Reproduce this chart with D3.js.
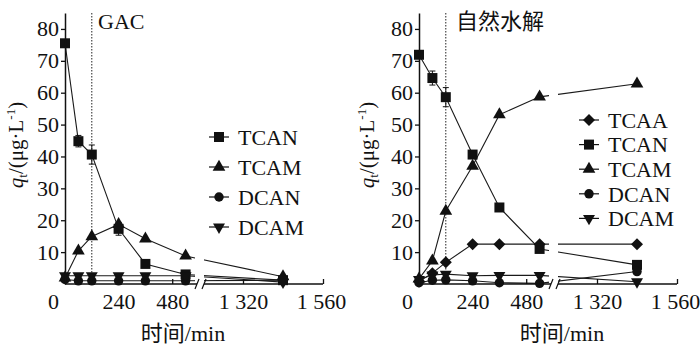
<!DOCTYPE html>
<html><head><meta charset="utf-8">
<script src="https://cdn.jsdelivr.net/npm/d3@7"></script>
<style>
body{margin:0;background:#fff}
svg{display:block}
text{font-family:"Liberation Serif","Times New Roman","Noto Sans CJK SC",serif;fill:#111}
</style>
</head><body>
<svg id="c" width="700" height="345"></svg>
<script>
// ---- data ----
const times = [0, 60, 120, 240, 360, 540, 1440];
const xTicks = [0, 240, 480, 1320, 1560];
const yTicks = [10, 20, 30, 40, 50, 60, 70, 80];
const markTime = 120;

const gacTCAN    = [75.5, 44.8, 40.6, 17.3, 6.3, 3.0, 1.2];
const gacTCANErr = [0, 1.8, 3.0, 2.0, 0.8, 0.5, 0];
const gacTCAM    = [1.9, 10.4, 14.9, 18.7, 14.2, 8.8, 2.3];
const gacDCAN    = [1.4, 1.0, 1.0, 1.0, 1.0, 1.0, 1.2];
const gacDCAM    = [2.6, 2.6, 2.6, 2.6, 2.6, 2.6, 0.6];

const hydTCAA    = [0.8, 3.4, 6.8, 12.5, 12.5, 12.5, 12.5];
const hydTCAN    = [71.9, 64.6, 58.6, 40.6, 24.0, 11.0, 6.0];
const hydTCANErr = [0, 2.2, 3.0, 0.8, 1.0, 0.8, 0];
const hydTCAM    = [1.6, 7.3, 22.9, 37.0, 53.1, 58.7, 62.8];
const hydDCAN    = [0.4, 1.2, 1.3, 1.0, 0.4, 0.2, 3.9];
const hydDCAM    = [1.4, 2.8, 3.1, 2.6, 2.7, 2.7, 0.7];

// ---- helpers ----
const svg = d3.select("#c");
svg.append("rect").attr("width", 700).attr("height", 345).attr("fill", "#fff");
const fmt = d3.formatLocale({decimal: ".", thousands: " ", grouping: [3], currency: ["", ""]}).format(",");
const shapes = {
  square:  {type: d3.symbolSquare,   size: 100, rot: 0},
  triangle:{type: d3.symbolTriangle, size: 70,  rot: 0},
  circle:  {type: d3.symbolCircle,   size: 70,  rot: 0},
  diamond: {type: d3.symbolSquare,   size: 72,  rot: 45},
  invtri:  {type: d3.symbolTriangle, size: 62,  rot: 180}
};
function drawSymbol(g, shape, cx, cy) {
  const s = shapes[shape];
  g.append("path")
    .attr("d", d3.symbol(s.type, s.size)())
    .attr("transform", `translate(${cx},${cy}) rotate(${s.rot})`)
    .attr("fill", "#111");
}

const panels = [
  {ox: 0, title: "GAC", titleX: 98, xLabelX: 183, yLabelX: 16, legX: 209, legY: 137, legStep: 30,
   series: [
     {name: "TCAN", values: gacTCAN, err: gacTCANErr, shape: "square"},
     {name: "TCAM", values: gacTCAM, shape: "triangle"},
     {name: "DCAN", values: gacDCAN, shape: "circle"},
     {name: "DCAM", values: gacDCAM, shape: "invtri"}
   ]},
  {ox: 354, title: "自然水解", titleX: 102, xLabelX: 208, yLabelX: 13, legX: 225, legY: 120, legStep: 24.6,
   series: [
     {name: "TCAA", values: hydTCAA, shape: "diamond"},
     {name: "TCAN", values: hydTCAN, err: hydTCANErr, shape: "square"},
     {name: "TCAM", values: hydTCAM, shape: "triangle"},
     {name: "DCAN", values: hydDCAN, shape: "circle"},
     {name: "DCAM", values: hydDCAM, shape: "invtri"}
   ]}
];

panels.forEach(p => {
  const g = svg.append("g").attr("transform", `translate(${p.ox},0)`);
  const x = d3.scaleLinear().domain([0, 600, 1200, 1560]).range([65, 199, 203, 323]);
  const y = d3.scaleLinear().domain([0, 85]).range([284, 13]);

  // dotted marker line
  g.append("line")
    .attr("x1", x(markTime)).attr("x2", x(markTime))
    .attr("y1", y(85)).attr("y2", y(0))
    .attr("stroke", "#222").attr("stroke-width", 1).attr("stroke-dasharray", "1.5,1.5");

  // series lines
  const line = d3.line().x((d, i) => x(times[i])).y(d => y(d));
  p.series.forEach(s => {
    g.append("path").attr("d", line(s.values))
      .attr("fill", "none").attr("stroke", "#1a1a1a").attr("stroke-width", 1.1);
  });

  // break gap (white)
  g.append("rect")
    .attr("x", x(600) - 4).attr("width", x(1200) - x(600) + 5)
    .attr("y", y(85)).attr("height", y(0) - y(85) - 1)
    .attr("fill", "#fff");

  // error bars
  p.series.forEach(s => {
    if (!s.err) return;
    s.values.forEach((v, i) => {
      const e = s.err[i];
      if (!e) return;
      const cx = x(times[i]);
      g.append("line").attr("x1", cx).attr("x2", cx).attr("y1", y(v - e)).attr("y2", y(v + e))
        .attr("stroke", "#111").attr("stroke-width", 1);
      [v - e, v + e].forEach(w => g.append("line")
        .attr("x1", cx - 3).attr("x2", cx + 3).attr("y1", y(w)).attr("y2", y(w))
        .attr("stroke", "#111").attr("stroke-width", 1));
    });
  });

  // markers
  p.series.forEach(s => {
    s.values.forEach((v, i) => drawSymbol(g, s.shape, x(times[i]), y(v)));
  });

  // x axis
  const xa = g.append("g").attr("transform", `translate(0,${y(0)})`)
    .call(d3.axisBottom(x).tickValues(xTicks).tickFormat(fmt).tickSize(-5).tickPadding(9));
  xa.select(".domain").remove();
  xa.attr("font-family", null).attr("font-size", null);
  xa.selectAll("text").attr("font-size", 22).attr("fill", "#111")
    .attr("x", d => d === 0 ? -12 : (d === 1560 ? -2 : 0));
  xa.selectAll(".tick line").attr("stroke", "#111").attr("stroke-width", 1.3);
  xa.append("line").attr("x1", x(0)).attr("x2", x(600) - 2).attr("y1", 0).attr("y2", 0)
    .attr("stroke", "#111").attr("stroke-width", 1.5);
  xa.append("line").attr("x1", x(1200) + 1).attr("x2", x(1560)).attr("y1", 0).attr("y2", 0)
    .attr("stroke", "#111").attr("stroke-width", 1.5);
  [x(600) - 2, x(1200) + 1].forEach(bx => xa.append("line")
    .attr("x1", bx - 2).attr("x2", bx + 2).attr("y1", 5).attr("y2", -5)
    .attr("stroke", "#111").attr("stroke-width", 1.2));

  // y axis
  const ya = g.append("g").attr("transform", `translate(${x(0)},0)`)
    .call(d3.axisLeft(y).tickValues(yTicks).tickSize(4).tickSizeOuter(0).tickPadding(2));
  ya.attr("font-family", null).attr("font-size", null);
  ya.select(".domain").attr("stroke", "#111").attr("stroke-width", 1.5);
  ya.selectAll(".tick line").attr("stroke", "#111").attr("stroke-width", 1.3);
  ya.selectAll("text").attr("font-size", 22).attr("fill", "#111");

  // title
  g.append("text").attr("x", p.titleX).attr("y", 29).attr("font-size", 22).text(p.title);

  // x label
  g.append("text").attr("x", p.xLabelX).attr("y", 341).attr("text-anchor", "middle")
    .attr("font-size", 22).text("时间/min");

  // y label
  const yl = g.append("text")
    .attr("transform", `translate(${p.yLabelX},145) rotate(-90)`)
    .attr("text-anchor", "middle").attr("dy", "0.35em").attr("font-size", 21);
  yl.append("tspan").attr("font-style", "italic").text("q");
  yl.append("tspan").attr("font-size", 13).attr("dy", 4).text("t");
  yl.append("tspan").attr("dy", -4).text("/(μg·L");
  yl.append("tspan").attr("font-size", 13).attr("dy", -8).text("-1");
  yl.append("tspan").attr("dy", 8).text(")");

  // legend
  p.series.forEach((s, i) => {
    const ly = p.legY + i * p.legStep;
    g.append("line").attr("x1", p.legX).attr("x2", p.legX + 20).attr("y1", ly).attr("y2", ly)
      .attr("stroke", "#111").attr("stroke-width", 1.2);
    drawSymbol(g, s.shape, p.legX + 10, ly);
    g.append("text").attr("x", p.legX + 29).attr("y", ly).attr("dy", "0.35em")
      .attr("font-size", 22).text(s.name);
  });
});
</script>
</body></html>
